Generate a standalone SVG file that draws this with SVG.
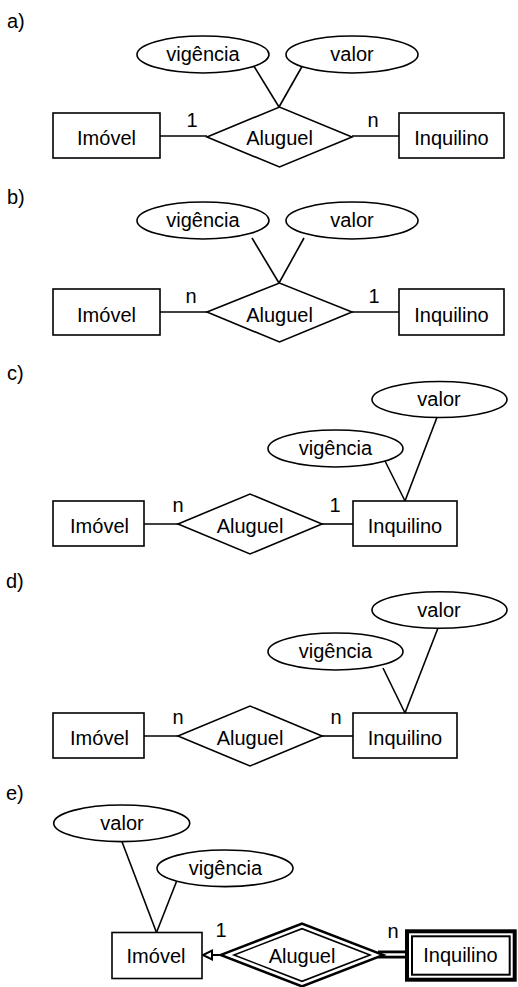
<svg xmlns="http://www.w3.org/2000/svg" width="518" height="987" viewBox="0 0 518 987">
<defs>
<style>
text{font-family:"Liberation Sans",Arial,sans-serif;font-size:20px;fill:#000}
.c{text-anchor:middle}
.s{fill:#fff;stroke:#000;stroke-width:1.6}
.l{stroke:#000;stroke-width:1.6;fill:none}
</style>
<marker id="hollow" markerUnits="userSpaceOnUse" markerWidth="14" markerHeight="14" refX="11" refY="7" orient="auto" viewBox="0 0 14 14">
<path d="M11,7 L2,2.5 L2,11.5 Z" fill="#fff" stroke="#000" stroke-width="2"/>
</marker>
</defs>
<rect width="518" height="987" fill="#fff"/>

<g id="labels">
<text x="7" y="28">a)</text>
<text x="7" y="204">b)</text>
<text x="7" y="380">c)</text>
<text x="6" y="588">d)</text>
<text x="6" y="800">e)</text>
</g>

<g id="connectors">
<!-- a -->
<line class="l" x1="252" y1="63" x2="279" y2="107"/>
<line class="l" x1="304" y1="63" x2="279" y2="107"/>
<line class="l" x1="160" y1="136" x2="207" y2="136"/>
<line class="l" x1="352" y1="136" x2="399" y2="136"/>
<!-- b -->
<line class="l" x1="252" y1="238" x2="279" y2="283"/>
<line class="l" x1="304" y1="238" x2="279" y2="283"/>
<line class="l" x1="160" y1="312" x2="207" y2="312"/>
<line class="l" x1="352" y1="312" x2="399" y2="312"/>
<!-- c -->
<line class="l" x1="383" y1="457" x2="405" y2="501"/>
<line class="l" x1="437.5" y1="416" x2="405" y2="501"/>
<line class="l" x1="144" y1="524" x2="178" y2="524"/>
<line class="l" x1="322" y1="524" x2="353" y2="524"/>
<!-- d -->
<line class="l" x1="383" y1="668" x2="405" y2="713"/>
<line class="l" x1="438" y1="628" x2="405" y2="713"/>
<line class="l" x1="144" y1="736" x2="178" y2="736"/>
<line class="l" x1="322" y1="736" x2="353" y2="736"/>
<!-- e -->
<line class="l" x1="121.7" y1="841" x2="156.5" y2="932.5"/>
<line class="l" x1="176.7" y1="881" x2="156.5" y2="932.5"/>
<line stroke="#000" stroke-width="2" x1="222" y1="955" x2="203" y2="955" marker-end="url(#hollow)"/>
<line stroke="#000" stroke-width="8" x1="378" y1="954.5" x2="407" y2="954.5"/>
<line stroke="#fff" stroke-width="2.4" x1="381" y1="954.5" x2="406" y2="954.5"/>
</g>

<g id="a-vigencia"><ellipse class="s" cx="203" cy="54.5" rx="66" ry="18.5"/><text class="c" x="203" y="61">vigência</text></g>
<g id="a-valor"><ellipse class="s" cx="352" cy="54.5" rx="66" ry="18.5"/><text class="c" x="352" y="61">valor</text></g>
<g id="a-imovel"><rect class="s" x="53" y="113" width="107" height="45"/><text class="c" x="106.5" y="145">Imóvel</text></g>
<g id="a-aluguel"><polygon class="s" points="207,137 279.5,107 352,137 279.5,167"/><text class="c" x="279.5" y="145">Aluguel</text></g>
<g id="a-inquilino"><rect class="s" x="399" y="113" width="105" height="45"/><text class="c" x="451.5" y="145">Inquilino</text></g>
<g id="a-card"><text class="c" x="192" y="127">1</text><text class="c" x="373" y="127">n</text></g>

<g id="b-vigencia"><ellipse class="s" cx="203" cy="220.5" rx="66" ry="18.5"/><text class="c" x="203" y="227">vigência</text></g>
<g id="b-valor"><ellipse class="s" cx="352" cy="220.5" rx="66" ry="18.5"/><text class="c" x="352" y="227">valor</text></g>
<g id="b-imovel"><rect class="s" x="53" y="289" width="107" height="46"/><text class="c" x="106.5" y="321.5">Imóvel</text></g>
<g id="b-aluguel"><polygon class="s" points="207,312 279.5,283 352,312 279.5,342"/><text class="c" x="279.5" y="321.5">Aluguel</text></g>
<g id="b-inquilino"><rect class="s" x="399" y="289" width="105" height="46"/><text class="c" x="451.5" y="321.5">Inquilino</text></g>
<g id="b-card"><text class="c" x="191" y="303">n</text><text class="c" x="374" y="303">1</text></g>

<g id="c-valor"><ellipse class="s" cx="439.5" cy="399.5" rx="67.5" ry="18"/><text class="c" x="439" y="406">valor</text></g>
<g id="c-vigencia"><ellipse class="s" cx="335.5" cy="448.5" rx="67.5" ry="18.5"/><text class="c" x="335.5" y="455">vigência</text></g>
<g id="c-imovel"><rect class="s" x="53" y="501" width="91" height="45"/><text class="c" x="99.5" y="533">Imóvel</text></g>
<g id="c-aluguel"><polygon class="s" points="178,524 250,494 322,524 250,554"/><text class="c" x="250" y="533">Aluguel</text></g>
<g id="c-inquilino"><rect class="s" x="353" y="501" width="104" height="45"/><text class="c" x="405" y="533">Inquilino</text></g>
<g id="c-card"><text class="c" x="178" y="512">n</text><text class="c" x="335" y="512">1</text></g>

<g id="d-valor"><ellipse class="s" cx="439.5" cy="610" rx="67.5" ry="18.3"/><text class="c" x="439" y="617">valor</text></g>
<g id="d-vigencia"><ellipse class="s" cx="335.5" cy="651.5" rx="67.5" ry="18.5"/><text class="c" x="335.5" y="658">vigência</text></g>
<g id="d-imovel"><rect class="s" x="53" y="713" width="91" height="45"/><text class="c" x="99.5" y="745">Imóvel</text></g>
<g id="d-aluguel"><polygon class="s" points="178,736 250,706 322,736 250,766"/><text class="c" x="250" y="745">Aluguel</text></g>
<g id="d-inquilino"><rect class="s" x="353" y="713" width="104" height="45"/><text class="c" x="405" y="745">Inquilino</text></g>
<g id="d-card"><text class="c" x="178" y="724">n</text><text class="c" x="336" y="724">n</text></g>

<g id="e-valor"><ellipse class="s" cx="121.7" cy="823.3" rx="68" ry="18.3"/><text class="c" x="122" y="830">valor</text></g>
<g id="e-vigencia"><ellipse class="s" cx="225" cy="868.3" rx="68" ry="18.3"/><text class="c" x="225.5" y="875">vigência</text></g>
<g id="e-imovel"><rect class="s" x="112" y="932.5" width="90" height="46"/><text class="c" x="156" y="963">Imóvel</text></g>
<g id="e-aluguel">
<polygon points="227,955 302,926 377,955 302,984" fill="#fff" stroke="#000" stroke-width="7"/>
<polygon points="227,955 302,926 377,955 302,984" fill="#fff" stroke="#fff" stroke-width="2"/>
<polygon points="234,955 302,928.7 370,955 302,981.3" fill="#fff" stroke="#000" stroke-width="1.6"/>
<text class="c" x="302" y="963">Aluguel</text>
</g>
<g id="e-inquilino">
<rect x="407" y="931.3" width="107.7" height="48.4" fill="#fff" stroke="#000" stroke-width="4"/>
<rect x="412" y="936.3" width="97.7" height="38.4" fill="none" stroke="#000" stroke-width="2"/>
<text class="c" x="460.5" y="962">Inquilino</text>
</g>
<g id="e-card"><text class="c" x="221" y="937">1</text><text class="c" x="393" y="938">n</text></g>
</svg>
